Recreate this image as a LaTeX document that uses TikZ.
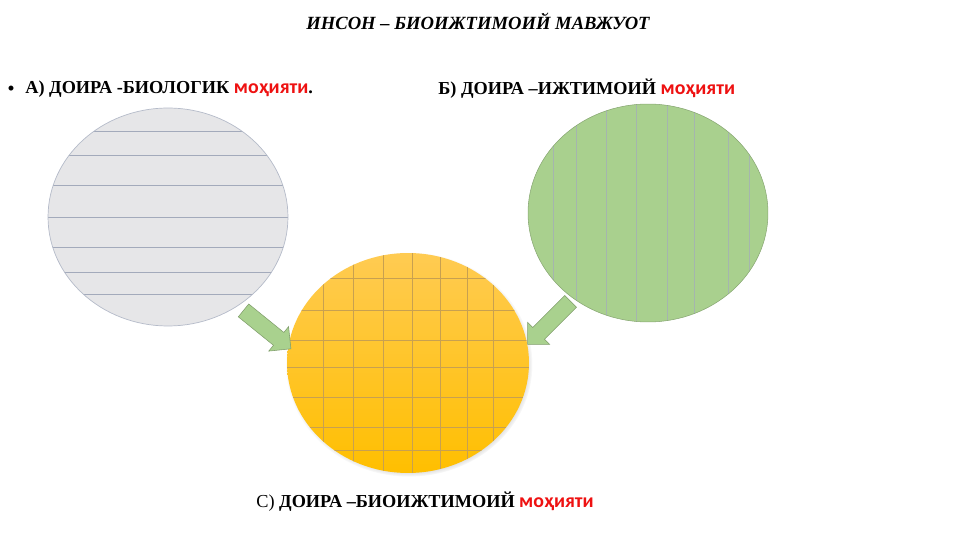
\documentclass[tikz,border=0pt]{standalone}
\usepackage{fontspec}
\setmainfont{Liberation Serif}
\newfontfamily\calfont{Carlito}
\usetikzlibrary{shapes.geometric,shapes.arrows,shadows}

\definecolor{biogray}{HTML}{E6E6E8}
\definecolor{bioline}{HTML}{A3AABB}
\definecolor{socgreen}{HTML}{A9D08E}
\definecolor{socline}{HTML}{8FA39A}
\definecolor{orgtop}{HTML}{FFCB52}
\definecolor{orgbot}{HTML}{FFBF00}
\definecolor{orgline}{HTML}{C8A050}
\definecolor{arrgreen}{HTML}{A9D18E}
\definecolor{labred}{HTML}{EE1111}

\newcommand{\mohiyati}{{\calfont\fontsize{11.3}{13}\selectfont\color{labred}моҳияти}}

\tikzset{
  sphere/.style={ellipse, inner sep=0pt, minimum width=4.8cm, minimum height=4.36cm},
  label/.style={anchor=west, font=\fontsize{10.4}{13}\selectfont\bfseries, inner sep=0pt},
  blockarr/.style={single arrow, draw=arrgreen!75!black, line width=0.3pt, fill=arrgreen,
    minimum height=1.22cm, inner xsep=0pt, inner ysep=0.16cm, single arrow head extend=0.15cm,
    single arrow head indent=0pt}
}

\begin{document}
\begin{tikzpicture}[x=0.02cm,y=-0.02cm]
  \useasboundingbox (0,0) rectangle (961,540);

  % title
  \node (title) at (478,21) {\fontsize{10.6}{12}\selectfont\bfseries\itshape ИНСОН – БИОИЖТИМОИЙ МАВЖУОТ};

  % labels
  \node[inner sep=0pt] (dot) at (11,89) {\calfont\fontsize{8}{10}\selectfont •};
  \node[label] (labA) at (25,89) {А) ДОИРА -БИОЛОГИК \mohiyati.};
  \node[label] (labB) at (438,89) {Б) ДОИРА –ИЖТИМОИЙ \mohiyati};
  \node[label] (labC) at (256,502) {\mdseries С)\bfseries{} ДОИРА –БИОИЖТИМОИЙ \mohiyati};

  % biological circle
  \node[sphere, draw=bioline!80, fill=biogray, line width=0.4pt,
    path picture={
      \foreach \s in {1.72,1.24,0.64,0,-0.6,-1.1,-1.54}
        \draw[bioline, line width=0.5pt] ([yshift=\s cm]path picture bounding box.west)
          -- ([yshift=\s cm]path picture bounding box.east);
    }] (bio) at (168,217) {};

  % social circle
  \node[sphere, draw=socgreen!80!black, fill=socgreen, line width=0.3pt,
    path picture={
      \foreach \s in {-1.9,-1.44,-0.84,-0.24,0.38,0.92,1.6,2.02}
        \draw[socline!80, line width=0.5pt] ([xshift=\s cm]path picture bounding box.north)
          -- ([xshift=\s cm]path picture bounding box.south);
    }] (soc) at (648,213) {};

  % bio-social circle
  \node[sphere, minimum width=4.84cm, minimum height=4.4cm, top color=orgtop, bottom color=orgbot,
    circular drop shadow={shadow scale=1.02, shadow xshift=0.02cm, shadow yshift=-0.03cm, fill=black!40},
    path picture={
      \foreach \s in {-1.7,-1.1,-0.5,0.08,0.64,1.18,1.7}
        \draw[orgline, line width=0.45pt] ([xshift=\s cm]path picture bounding box.north)
          -- ([xshift=\s cm]path picture bounding box.south);
      \foreach \s in {1.7,1.06,0.46,-0.08,-0.68,-1.28,-1.74}
        \draw[orgline, line width=0.45pt] ([yshift=\s cm]path picture bounding box.west)
          -- ([yshift=\s cm]path picture bounding box.east);
    }] (biosoc) at (408,363) {};

  % arrows into the middle circle
  \node[blockarr, rotate=-39] (arrA) at (264,327) {};
  \node[blockarr, rotate=-135] (arrB) at (552,320) {};
\end{tikzpicture}
\end{document}
